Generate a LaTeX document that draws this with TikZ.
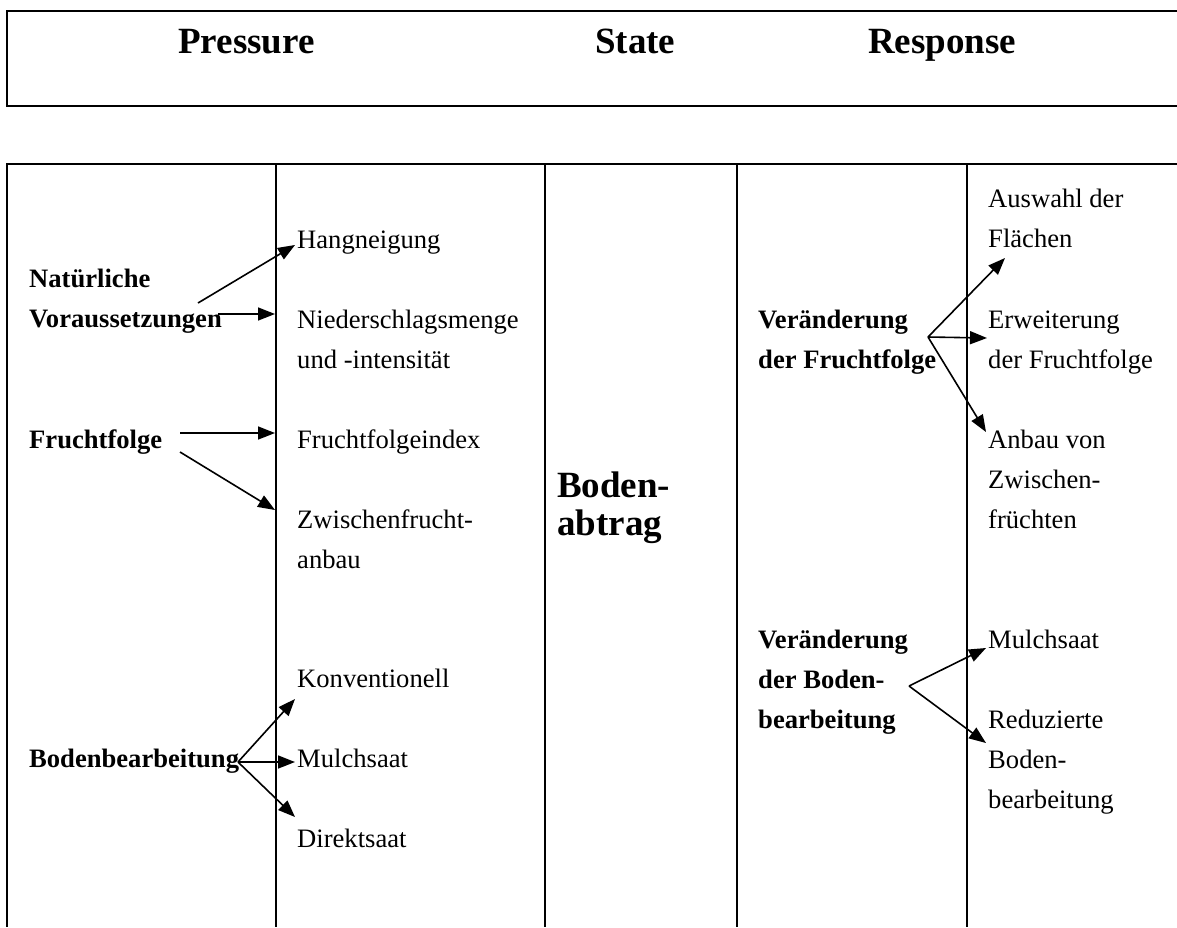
\documentclass[tikz,border=0pt]{standalone}
\usepackage{fontspec}
\setmainfont{Liberation Serif}
\usetikzlibrary{arrows.meta}

\begin{document}
\begin{tikzpicture}[
    x=1pt, y=-1pt,
    frame/.style = {draw=black, line width=2pt},
    item/.style = {
        anchor=base west,
        inner sep=0pt,
        align=left,
        font=\fontsize{26.6}{40}\selectfont,
    },
    cause/.style = {
        item,
        font=\fontsize{26.6}{40}\selectfont\bfseries,
    },
    head/.style = {
        anchor=base west,
        inner sep=0pt,
        align=left,
        font=\fontsize{37}{38}\selectfont\bfseries,
    },
    link/.style = {
        draw=black,
        line width=1.6pt,
        -{Triangle[length=17pt, width=13pt]},
    },
]
\useasboundingbox (0,0) rectangle (1177,927);
\path [frame] (1177,11) -- (7,11) -- (7,106) -- (1177,106);
\node [head] (pressure) at (178,53) {Pressure};
\node [head] (state) at (595,53) {State};
\node [head] (response) at (868,53) {Response};
\path [frame] (1177,164) -- (7,164) -- (7,927);
\foreach \x in {276,545,737,967}
    \path [frame] (\x,164) -- (\x,927);
\node [cause] (natur) at (29,327) {Natürliche\\Voraussetzungen};
\node [cause] (frucht) at (29,448) {Fruchtfolge};
\node [cause] (boden) at (29,767) {Bodenbearbeitung};
\node [item] (hang) at (297,248) {Hangneigung};
\node [item] (nieder) at (297,368) {Niederschlagsmenge\\und -intensität};
\node [item] (index) at (297,448) {Fruchtfolgeindex};
\node [item] (zwischen) at (297,568) {Zwischenfrucht-\\anbau};
\node [item] (konv) at (297,687) {Konventionell};
\node [item] (mulch) at (297,767) {Mulchsaat};
\node [item] (direkt) at (297,847) {Direktsaat};
\node [head] (abtrag) at (557,535) {Boden-\\abtrag};
\node [cause] (vfrucht) at (758,368) {Veränderung\\der Fruchtfolge};
\node [cause] (vboden) at (758,728) {Veränderung\\der Boden-\\bearbeitung};
\node [item] (auswahl) at (988,247) {Auswahl der\\Flächen};
\node [item] (erweit) at (988,368) {Erweiterung\\der Fruchtfolge};
\node [item] (anbau) at (988,528) {Anbau von\\Zwischen-\\früchten};
\node [item] (rmulch) at (988,648) {Mulchsaat};
\node [item] (reduz) at (988,808) {Reduzierte\\Boden-\\bearbeitung};
\coordinate (natur-a) at (198,303);
\coordinate (natur-b) at (218,314);
\coordinate (frucht-a) at (180,433);
\coordinate (frucht-b) at (180,452);
\coordinate (boden-out) at (238,762);
\coordinate (vfrucht-out) at (928,337);
\coordinate (vboden-out) at (909,686);
\coordinate (hang-in) at (295,245);
\coordinate (nieder-in) at (275,314);
\coordinate (index-in) at (275,433);
\coordinate (zwischen-in) at (275,510);
\coordinate (konv-in) at (295,699);
\coordinate (mulch-in) at (295,762);
\coordinate (direkt-in) at (295,817);
\coordinate (auswahl-in) at (1005,258);
\coordinate (erweit-in) at (987,338);
\coordinate (anbau-in) at (986,432);
\coordinate (rmulch-in) at (986,648);
\coordinate (reduz-in) at (986,743);
\path [link] (natur-a) -- (hang-in);
\path [link] (natur-b) -- (nieder-in);
\path [link] (frucht-a) -- (index-in);
\path [link] (frucht-b) -- (zwischen-in);
\path [link] (boden-out) -- (konv-in);
\path [link] (boden-out) -- (mulch-in);
\path [link] (boden-out) -- (direkt-in);
\path [link] (vfrucht-out) -- (auswahl-in);
\path [link] (vfrucht-out) -- (erweit-in);
\path [link] (vfrucht-out) -- (anbau-in);
\path [link] (vboden-out) -- (rmulch-in);
\path [link] (vboden-out) -- (reduz-in);
\end{tikzpicture}
\end{document}
